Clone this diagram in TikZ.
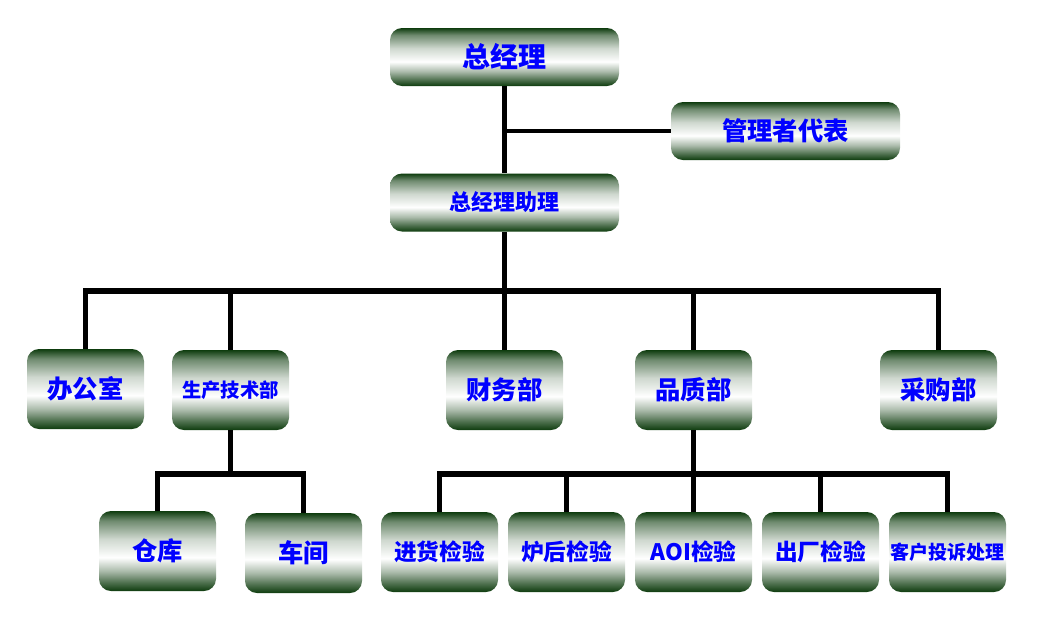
\documentclass[tikz,border=0pt]{standalone}
\usepackage{fontspec}
\newfontfamily\cjk{Noto Sans CJK SC}
\usetikzlibrary{calc}
\definecolor{boxgreen}{RGB}{14,60,14}
\definecolor{txtblue}{RGB}{0,0,255}
\pgfdeclareverticalshading{boxshade}{100bp}{color(0bp)=(boxgreen); color(25bp)=(boxgreen);
  color(30bp)=(boxgreen!75!white); color(37.5bp)=(boxgreen!35!white); color(46bp)=(white);
  color(57.5bp)=(boxgreen!20!white); color(69bp)=(boxgreen!60!white); color(75bp)=(boxgreen);
  color(100bp)=(boxgreen)}
\tikzset{
  unit/.style={rounded corners=9pt, inner sep=0pt, minimum width=87.75pt, minimum height=60pt,
    shading=boxshade, text=txtblue, font=\cjk\bfseries\fontsize{19}{21}\selectfont},
  wide/.style={unit, minimum width=171.75pt, minimum height=43.5pt},
  link/.style={line width=4pt, draw=black},
  thin link/.style={line width=3pt, draw=black}
}
\begin{document}
\begin{tikzpicture}[x=0.75pt, y=-0.75pt]
			%%%%% START %%%%%
			\useasboundingbox (0,0) rectangle (1040,619);
			
			% top of the chart
			\node[wide, font=\cjk\bfseries\fontsize{21}{23}\selectfont] (gm) at (504.5,57) {总经理};
			\node[wide, font=\cjk\bfseries\fontsize{19}{21}\selectfont] (rep) at (785.5,131) {管理者代表};
			\node[wide, font=\cjk\bfseries\fontsize{16.5}{18}\selectfont] (asst) at (504.5,202.5) {总经理助理};
			
			% departments
			\node[unit] (office) at (85.5,389) {办公室};
			\node[unit, font=\cjk\bfseries\fontsize{14.5}{16}\selectfont] (tech) at (230.5,390) {生产技术部};
			\node[unit] (fin) at (504.5,390) {财务部};
			\node[unit] (qual) at (693.5,390) {品质部};
			\node[unit] (buy) at (938.5,390) {采购部};
			
			% under tech
			\node[unit] (store) at (157.5,551) {仓库};
			\node[unit] (shop) at (303.5,553) {车间};
			
			% under quality
			\node[unit, font=\cjk\bfseries\fontsize{17}{19}\selectfont] (iqc) at (439.5,552) {进货检验};
			\node[unit, font=\cjk\bfseries\fontsize{17}{19}\selectfont] (oven) at (566.5,552) {炉后检验};
			\node[unit, font=\cjk\bfseries\fontsize{17}{19}\selectfont] (aoi) at (693.5,552) {AOI检验};
			\node[unit, font=\cjk\bfseries\fontsize{17}{19}\selectfont] (oqc) at (820.5,552) {出厂检验};
			\node[unit, font=\cjk\bfseries\fontsize{14.3}{16}\selectfont] (claim) at (947.5,552) {客户投诉处理};
			
			% connectors
			\draw[link] (gm.south) -- (asst.north);
			\draw[thin link] (rep.west) -- (gm.south |- rep.west);
			
			\coordinate (busA) at (504.5,291);
			\draw[link] (asst.south) -- (busA);
			\draw[link] (office.north) |- (buy.north |- busA) -- (buy.north);
			\foreach \d in {tech,fin,qual}
				\draw[link] (\d.north) -- (\d.north |- busA);
			
			\coordinate (busB) at (226,474);
			\draw[link] (tech.south) -- (tech.south |- busB);
			\draw[link] (store.north) |- (shop.north |- busB) -- (shop.north);
			
			\coordinate (busC) at (692,474);
			\draw[link] (qual.south) -- (qual.south |- busC);
			\draw[link] (iqc.north) |- (claim.north |- busC) -- (claim.north);
			\foreach \d in {oven,aoi,oqc}
				\draw[link] (\d.north) -- (\d.north |- busC);
			%%%%% END %%%%%
\end{tikzpicture}
\end{document}
